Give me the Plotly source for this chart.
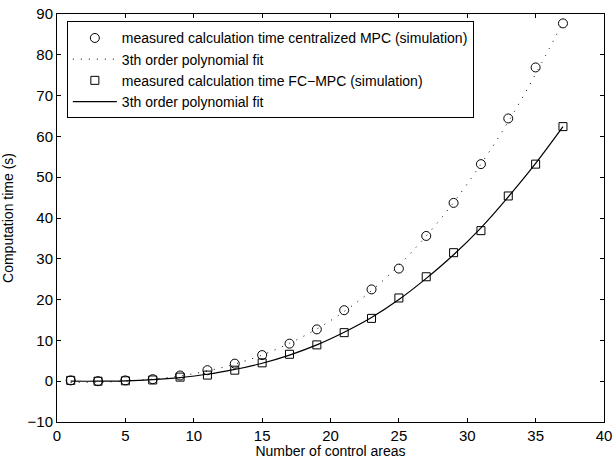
import plotly.graph_objects as go

# Data
x_areas = [1, 3, 5, 7, 9, 11, 13, 15, 17, 19, 21, 23, 25, 27, 29, 31, 33, 35, 37]
t_central = [0.2, 0.0, 0.2, 0.5, 1.4, 2.7, 4.3, 6.4, 9.2, 12.7, 17.4, 22.5, 27.6, 35.6, 43.7, 53.2, 64.4, 76.9, 87.7]
t_fcmpc = [0.2, 0.0, 0.1, 0.3, 1.0, 1.5, 2.7, 4.5, 6.6, 8.9, 11.9, 15.4, 20.4, 25.6, 31.5, 36.9, 45.4, 53.2, 62.4]
fit_central = [-0.3, -0.2, 0.0, 0.5, 1.3, 2.5, 4.2, 6.4, 9.3, 12.8, 17.1, 22.2, 28.4, 35.6, 43.8, 53.2, 63.6, 75.3, 88.0]
fit_fcmpc = [0.0, 0.0, 0.1, 0.4, 0.9, 1.7, 2.9, 4.4, 6.4, 8.9, 12.0, 15.6, 20.0, 25.2, 31.0, 37.6, 45.2, 53.4, 62.4]

names = [
    "measured calculation time centralized MPC (simulation)",
    "3th order polynomial fit",
    "measured calculation time FC\u2212MPC (simulation)",
    "3th order polynomial fit",
]

FONT = "Liberation Sans, Arial, sans-serif"

fig = go.Figure()
fig.add_trace(go.Scatter(x=x_areas, y=t_central, mode="markers", name=names[0],
                         marker=dict(symbol="circle-open", size=9, color="black", line=dict(width=1))))
fig.add_trace(go.Scatter(x=x_areas, y=fit_central, mode="lines", name=names[1], line_shape="spline",
                         line=dict(color="black", width=1, dash="1px,7px")))
fig.add_trace(go.Scatter(x=x_areas, y=t_fcmpc, mode="markers", name=names[2],
                         marker=dict(symbol="square-open", size=8, color="black", line=dict(width=1))))
fig.add_trace(go.Scatter(x=x_areas, y=fit_fcmpc, mode="lines", name=names[3], line_shape="spline",
                         line=dict(color="black", width=1.2)))

axis_common = dict(showgrid=False, zeroline=False, showline=True, linecolor="black", linewidth=1,
                   mirror="allticks", ticks="inside", ticklen=4, tickcolor="black", automargin=False,
                   tickfont=dict(family=FONT, size=15, color="black"))

fig.update_xaxes(range=[0, 40], dtick=5, tick0=0,
                 title=dict(text="Number of control areas", font=dict(family=FONT, size=14, color="black")),
                 **axis_common)
fig.update_yaxes(range=[-10, 90], dtick=10, tick0=0,
                 title=dict(text="Computation time (s)", font=dict(family=FONT, size=14, color="black")),
                 **axis_common)

fig.update_layout(
    width=615, height=459,
    margin=dict(l=57, r=11, t=14, b=37, autoexpand=False),
    paper_bgcolor="white", plot_bgcolor="white",
    font=dict(family=FONT, color="black"),
    legend=dict(x=0.018, y=0.982, xanchor="left", yanchor="top",
                bgcolor="white", bordercolor="black", borderwidth=1,
                font=dict(family=FONT, size=14, color="black"),
                tracegroupgap=0, itemwidth=44),
    showlegend=True,
)

fig.write_html("out.html")
